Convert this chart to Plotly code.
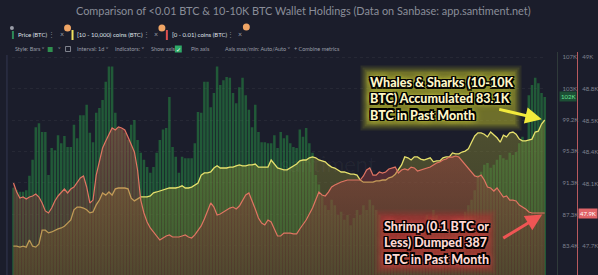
import plotly.graph_objects as go
import pandas as pd

# ---------------- data ----------------
dates = pd.date_range("2024-11-14", periods=168, freq="D")

price_k = [
    90.7, 90.4, 90.2, 90.2, 90.4, 92.2, 94.2, 98.3, 98.8, 97.7,
    97.7, 92.3, 95.7, 95.4, 97.3, 96.3, 97.2, 95.8, 95.8, 98.6,
    96.9, 99.8, 99.8, 101.1, 97.6, 96.4, 100.1, 100.7, 101.7, 104.0,
    105.9, 105.9, 100.1, 98.3, 98.0, 97.6, 96.7, 98.6, 99.2, 96.7,
    95.1, 94.2, 93.3, 92.6, 93.3, 95.1, 96.7, 98.0, 98.2, 102.1,
    95.8, 94.6, 92.6, 94.6, 94.4, 94.4, 94.4, 96.3, 100.2, 100.1,
    104.0, 104.0, 100.8, 102.6, 105.9, 103.6, 104.2, 104.6, 104.5, 102.6,
    101.3, 103.3, 104.5, 102.3, 100.5, 98.3, 101.1, 97.7, 96.4, 96.4,
    96.3, 96.3, 97.3, 95.7, 97.7, 96.9, 97.3, 96.3, 95.8, 95.7,
    98.0, 97.1, 98.2, 96.3, 95.1, 92.3, 91.1, 89.8, 88.5, 87.9,
    89.2, 88.5, 87.3, 87.7, 86.7, 87.3, 86.0, 86.9, 87.9, 87.3,
    88.5, 87.9, 89.2, 88.5, 87.9, 87.3, 86.0, 86.7, 85.4, 84.2,
    82.9, 84.8, 82.3, 83.5, 84.2, 83.5, 84.8, 85.4, 86.0, 85.2,
    87.3, 86.7, 87.9, 87.3, 86.7, 85.4, 84.8, 85.2, 86.0, 85.7,
    86.9, 86.7, 87.7, 88.5, 89.2, 90.4, 92.3, 92.7, 93.6, 93.8,
    93.2, 93.6, 94.2, 94.8, 94.4, 94.2, 95.1, 94.8, 95.2, 96.3,
    97.1, 96.7, 102.3, 103.6, 104.5, 103.8, 102.6, 102.1,
]

whales_k = [
    13316, 13316, 13314, 13316, 13314, 13330, 13316, 13314, 13321, 13352,
    13352, 13346, 13348, 13352, 13355, 13357, 13361, 13368, 13375, 13398,
    13404, 13404, 13402, 13398, 13391, 13393, 13409, 13420, 13436, 13431,
    13438, 13431, 13445, 13447, 13447, 13447, 13445, 13424, 13418, 13422,
    13427, 13427, 13427, 13429, 13436, 13438, 13440, 13442, 13445, 13447,
    13447, 13447, 13449, 13452, 13447, 13447, 13449, 13454, 13458, 13476,
    13481, 13481, 13483, 13492, 13497, 13492, 13492, 13492, 13494, 13494,
    13497, 13499, 13497, 13497, 13499, 13499, 13501, 13494, 13494, 13494,
    13494, 13510, 13501, 13492, 13490, 13488, 13488, 13492, 13497, 13501,
    13508, 13510, 13510, 13515, 13517, 13515, 13510, 13508, 13506, 13499,
    13494, 13492, 13488, 13483, 13483, 13481, 13478, 13478, 13476, 13465,
    13460, 13460, 13460, 13460, 13463, 13463, 13465, 13465, 13470, 13472,
    13478, 13490, 13499, 13517, 13515, 13510, 13517, 13517, 13512, 13510,
    13512, 13515, 13506, 13508, 13508, 13515, 13517, 13517, 13526, 13524,
    13524, 13528, 13530, 13535, 13550, 13564, 13571, 13571, 13568, 13562,
    13573, 13566, 13560, 13550, 13566, 13562, 13571, 13573, 13568, 13557,
    13553, 13553, 13555, 13557, 13573, 13575, 13591, 13600,
]

shrimp_btc = [
    48133, 48071, 48030, 48037, 48023, 48037, 48044, 48058, 48037, 47996,
    47941, 47927, 47961, 48010, 48044, 48065, 48092, 48065, 48092, 48106,
    48133, 48168, 48182, 48106, 47996, 48016, 48188, 48292, 48374, 48422,
    48464, 48512, 48498, 48519, 48512, 48498, 48450, 48395, 48347, 48223,
    48016, 47927, 47865, 47824, 47796, 47769, 47741, 47755, 47769, 47776,
    47762, 47762, 47762, 47769, 47776, 47762, 47755, 47776, 47803, 47838,
    47886, 47948, 47996, 47968, 47913, 47920, 47934, 47948, 47961, 47968,
    47955, 47975, 48010, 48051, 48065, 48016, 47955, 47893, 47858, 47845,
    47879, 47865, 47817, 47769, 47769, 47789, 47789, 47789, 47783, 47783,
    47817, 47845, 47879, 47920, 47961, 48016, 48071, 48051, 48044, 48071,
    48106, 48120, 48133, 48140, 48147, 48154, 48154, 48154, 48154, 48154,
    48182, 48223, 48237, 48188, 48188, 48209, 48202, 48209, 48230, 48237,
    48243, 48202, 48223, 48230, 48223, 48243, 48237, 48216, 48223, 48230,
    48237, 48243, 48257, 48271, 48278, 48292, 48298, 48312, 48312, 48319,
    48312, 48285, 48264, 48237, 48209, 48182, 48175, 48188, 48154, 48106,
    48099, 48078, 48099, 48065, 48037, 48044, 48016, 48016, 48010, 47982,
    47968, 47955, 47934, 47927, 47927, 47927, 47927, 47927,
]

price_ticks = [107.1, 103.1, 99.2, 95.3, 91.3, 87.3, 83.4]
price_tick_text = ["107K", "103K", "99.2K", "95.3K", "91.3K", "87.3K", "83.4K"]
shrimp_ticks = [49000, 48780, 48560, 48350, 48130, 47700]
shrimp_tick_text = ["49K", "48.8K", "48.5K", "48.4K", "48.1K", "47.7K"]

title_text = "Comparison of &lt;0.01 BTC &amp; 10-10K BTC Wallet Holdings (Data on Sanbase: app.santiment.net)"
series_names = ["Price (BTC)", "[10 - 10,000) coins (BTC)", "[0 - 0.01) coins (BTC)"]
whale_note = "Whales &amp; Sharks (10-10K<br>BTC) Accumulated 83.1K<br>BTC in Past Month"
shrimp_note = "Shrimp (0.1 BTC or<br>Less) Dumped 387<br>BTC in Past Month"

# ---------------- figure ----------------
W, H = 598, 275
BG = "#1b1d2b"


def px(x):
    return x / W


def py(y):
    return 1 - y / H


fig = go.Figure()

fig.add_trace(go.Bar(
    x=dates, y=price_k, yaxis="y", name=series_names[0],
    marker=dict(color="rgba(38,140,68,0.55)", line=dict(width=0)),
))
fig.add_trace(go.Scatter(
    x=dates, y=whales_k, yaxis="y2", name=series_names[1], mode="lines",
    line=dict(color="#e6e06c", width=1.3),
    fill="tozeroy",
    fillgradient=dict(type="vertical", start=13251, stop=13600,
                      colorscale=[[0, "rgba(95,95,40,0.45)"], [1, "rgba(150,150,55,0.42)"]]),
))
fig.add_trace(go.Scatter(
    x=dates, y=shrimp_btc, yaxis="y3", name=series_names[2], mode="lines",
    line=dict(color="#e07462", width=1.2),
    fill="tozeroy",
    fillgradient=dict(type="vertical", start=47500, stop=48500,
                      colorscale=[[0, "rgba(110,45,45,0.40)"], [1, "rgba(175,70,70,0.45)"]]),
))

dom_top = 1 - 52 / H
half = pd.Timedelta(hours=12)

fig.update_layout(
    width=W, height=H,
    margin=dict(l=0, r=0, t=0, b=0),
    paper_bgcolor=BG, plot_bgcolor=BG,
    showlegend=False, bargap=0.22,
    font=dict(family="Lato", color="#9a9da8"),
    xaxis=dict(domain=[px(12), px(550)], range=[dates[0] - half, dates[-1] + half],
               visible=False, fixedrange=True),
    yaxis=dict(domain=[0, dom_top], range=[79.76, 107.73], side="right",
               anchor="free", position=px(561),
               tickvals=price_ticks, ticktext=price_tick_text,
               tickfont=dict(size=6, color="#7f8290"), ticks="", ticklabelstandoff=3,
               showline=True, linecolor="#2f3a3a", linewidth=1,
               showgrid=True, gridcolor="rgba(255,255,255,0.05)", griddash="dot",
               zeroline=False),
    yaxis2=dict(domain=[0, dom_top], range=[13251.25, 13753], overlaying="y",
                visible=False),
    yaxis3=dict(domain=[0, dom_top], range=[47500.6, 49034.4], overlaying="y",
                side="right", anchor="free", position=px(581),
                tickvals=shrimp_ticks, ticktext=shrimp_tick_text,
                tickfont=dict(size=6, color="#7f8290"), ticks="", ticklabelstandoff=3,
                showline=True, linecolor="#b85a5e", linewidth=1,
                showgrid=False, zeroline=False),
)

ann = []
# title
ann.append(dict(x=px(306), y=py(10), xref="paper", yref="paper", text=title_text,
                showarrow=False, xanchor="center", yanchor="middle",
                font=dict(size=10.9, color="#8a8d99", family="Lato")))

# legend row
leg_y = py(34)
for xx, t in [(16, series_names[0]), (76, series_names[1]), (171, series_names[2])]:
    ann.append(dict(x=px(xx), y=leg_y, xref="paper", yref="paper", text=t, showarrow=False,
                    xanchor="left", yanchor="middle", font=dict(size=6, color="#dfe0e6")))
for xx in [52, 147, 232]:
    ann.append(dict(x=px(xx), y=leg_y, xref="paper", yref="paper", text="⋮", showarrow=False,
                    xanchor="center", yanchor="middle", font=dict(size=7, color="#7a7d88")))
for xx in [62, 157, 242]:
    ann.append(dict(x=px(xx), y=leg_y, xref="paper", yref="paper", text="×", showarrow=False,
                    xanchor="center", yanchor="middle", font=dict(size=7, color="#9a9da8")))

# toolbar row
tb_y = py(49)
for xx, t in [(13, "Style: Bars ˅"), (56, "˅"), (76, "Interval: 1d ˅"), (114, "Indicators: ˅"),
              (150, "Show axis"), (190, "Pin axis"), (224, "Axis max/min: Auto/Auto ˅"),
              (294, "+ Combine metrics")]:
    ann.append(dict(x=px(xx), y=tb_y, xref="paper", yref="paper", text=t, showarrow=False,
                    xanchor="left", yanchor="middle", font=dict(size=5.5, color="#9a9da8")))
ann.append(dict(x=px(179.5), y=tb_y, xref="paper", yref="paper", text="✓", showarrow=False,
                xanchor="center", yanchor="middle", font=dict(size=6, color="#ffffff")))

# value badges
ann.append(dict(x=px(563), y=price_k[-1], xref="paper", yref="y", text="102K", showarrow=False,
                xanchor="left", yanchor="middle", bgcolor="#1c4f35", borderpad=1,
                font=dict(size=6, color="#66e394")))
ann.append(dict(x=px(582), y=shrimp_btc[-1], xref="paper", yref="y3", text="47.9K", showarrow=False,
                xanchor="left", yanchor="middle", bgcolor="#e06468", borderpad=1,
                font=dict(size=6, color="#ffffff")))

# watermark
ann.append(dict(x=px(330), y=py(163), xref="paper", yref="paper", text="santiment", showarrow=False,
                font=dict(size=22, color="rgba(255,255,255,0.04)")))

# callout texts with soft glow boxes behind
outline = ("-1.5px -1.5px 0 #000, 1.5px -1.5px 0 #000, -1.5px 1.5px 0 #000, 1.5px 1.5px 0 #000, "
           "0 -1.5px 0 #000, 0 1.5px 0 #000, -1.5px 0 0 #000, 1.5px 0 0 #000")
callouts = [
    (whale_note, 370, 73, "#fff7c8", "rgba(235,235,70,1)", (175, 175, 45)),
    (shrimp_note, 385, 217, "#ffd9d4", "rgba(240,80,80,1)", (175, 55, 55)),
]
for note, lx, ty, col, glow, (r, g, b) in callouts:
    for pad, a in [(8, 0.12), (6, 0.15), (4, 0.20), (2, 0.28)]:
        ann.append(dict(x=px(lx), y=py(ty), xref="paper", yref="paper", text=note, showarrow=False,
                        xanchor="left", yanchor="top", align="left", borderpad=pad,
                        xshift=-pad, yshift=pad,
                        bgcolor=f"rgba({r},{g},{b},{a})",
                        font=dict(size=12.5, family="Lato", weight=900, color="rgba(0,0,0,0)")))
    ann.append(dict(x=px(lx), y=py(ty), xref="paper", yref="paper", text=note, showarrow=False,
                    xanchor="left", yanchor="top", align="left",
                    font=dict(size=12.5, family="Lato", weight=900, color=col,
                              shadow=outline + f", 0 0 5px {glow}, 0 0 9px {glow}")))

# arrows to the last points
ann.append(dict(x=dates[-1], y=whales_k[-1], xref="x", yref="y2", text="", showarrow=True,
                ax=-47, ay=-11, arrowhead=2, arrowsize=1.1, arrowwidth=3, arrowcolor="#f2ea3c",
                standoff=3))
ann.append(dict(x=dates[-1], y=shrimp_btc[-1], xref="x", yref="y3", text="", showarrow=True,
                ax=-43, ay=26, arrowhead=2, arrowsize=1.1, arrowwidth=3, arrowcolor="#ef5554",
                standoff=3))

fig.update_layout(annotations=ann)

shapes = []
# legend markers
shapes.append(dict(type="line", xref="paper", yref="paper", x0=px(13), x1=px(13), y0=py(31), y1=py(39),
                   line=dict(color="#2e8b57", width=2)))
shapes.append(dict(type="line", xref="paper", yref="paper", x0=px(73), x1=px(73), y0=py(30), y1=py(40),
                   line=dict(color="#efe35e", width=2)))
shapes.append(dict(type="line", xref="paper", yref="paper", x0=px(168), x1=px(168), y0=py(30), y1=py(40),
                   line=dict(color="#e05050", width=2)))
for cx, cy in [(68, 28), (163, 28), (248, 27)]:
    shapes.append(dict(type="circle", xref="paper", yref="paper", x0=px(cx - 3.5), x1=px(cx + 3.5),
                       y0=py(cy + 3.5), y1=py(cy - 3.5), fillcolor="#f0a565", line=dict(width=0)))
shapes.append(dict(type="circle", xref="paper", yref="paper", x0=px(10), x1=px(14),
                   y0=py(30), y1=py(26), fillcolor="#9a9da8", line=dict(width=0)))
# toolbar widgets
shapes.append(dict(type="rect", xref="paper", yref="paper", x0=px(48), x1=px(53), y0=py(52), y1=py(47),
                   fillcolor="#2f8f4f", line=dict(width=0)))
shapes.append(dict(type="rect", xref="paper", yref="paper", x0=px(66), x1=px(71), y0=py(51.5), y1=py(46.5),
                   fillcolor="rgba(0,0,0,0)", line=dict(color="#9a9da8", width=0.8)))
shapes.append(dict(type="rect", xref="paper", yref="paper", x0=px(176), x1=px(183), y0=py(52.5), y1=py(45.5),
                   fillcolor="#2eaa68", line=dict(width=0)))
# left panel edge
shapes.append(dict(type="line", xref="paper", yref="paper", x0=px(7), x1=px(7), y0=0, y1=py(55),
                   line=dict(color="#343852", width=1)))
fig.update_layout(shapes=shapes)

fig.write_html("out.html", config={"displayModeBar": False})
